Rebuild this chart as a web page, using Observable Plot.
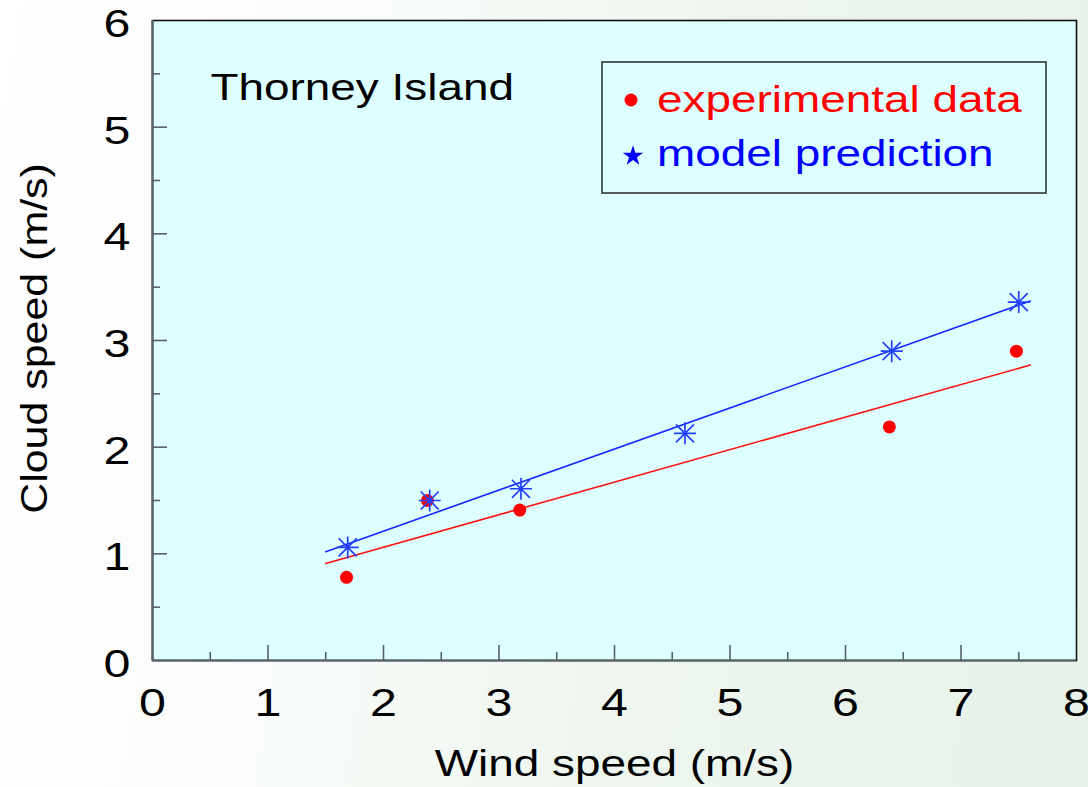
<!DOCTYPE html>
<html>
<head>
<meta charset="utf-8">
<script src="https://cdn.jsdelivr.net/npm/d3@7"></script>
<script src="https://cdn.jsdelivr.net/npm/@observablehq/plot@0.6"></script>
<style>
  html, body { margin: 0; padding: 0; }
  body {
    width: 1088px; height: 787px; overflow: hidden;
    background: linear-gradient(100deg, #ffffff 0%, #fbfdfb 25%, #eef6ef 60%, #e6f2e8 100%);
    font-family: "Liberation Sans", Arial, sans-serif;
  }
  #chart svg { display: block; }
</style>
</head>
<body>
<div id="chart"></div>
<script>
// ---- data ----
const windExp   = [1.68, 2.38, 3.18, 6.38, 7.48];
const cloudExp  = [0.78, 1.50, 1.41, 2.19, 2.90];
const windModel  = [1.69, 2.40, 3.19, 4.61, 6.40, 7.50];
const cloudModel = [1.06, 1.50, 1.61, 2.13, 2.90, 3.36];
const fitWind   = [1.5, 7.6];
const fitExp    = [0.91, 2.77];
const fitModel  = [1.02, 3.37];
const xTicks = [0, 1, 2, 3, 4, 5, 6, 7, 8];
const xMinor = [0.5, 1.5, 2.5, 3.5, 4.5, 5.5, 6.5, 7.5];
const yTicks = [0, 1, 2, 3, 4, 5, 6];
const yMinor = [0.5, 1.5, 2.5, 3.5, 4.5, 5.5];
const seriesNames = ["experimental data", "model prediction"];
const siteName = "Thorney Island";
const xTitle = "Wind speed (m/s)";
const yTitle = "Cloud speed (m/s)";

const exp = windExp.map((x, i) => ({x, y: cloudExp[i]}));
const model = windModel.map((x, i) => ({x, y: cloudModel[i]}));
const fitE = fitWind.map((x, i) => ({x, y: fitExp[i]}));
const fitM = fitWind.map((x, i) => ({x, y: fitModel[i]}));

const asterisk = {
  draw(ctx, size) {
    const r = Math.sqrt(size / Math.PI), d = r * 0.82;
    ctx.moveTo(-r, 0); ctx.lineTo(r, 0);
    ctx.moveTo(0, -r); ctx.lineTo(0, r);
    ctx.moveTo(-d, -d); ctx.lineTo(d, d);
    ctx.moveTo(-d, d); ctx.lineTo(d, -d);
  }
};

const W = 1088, H = 787, ML = 152, MR = 12, MT = 20, MB = 127;
const FW = W - ML - MR, FH = H - MT - MB;
const axisCol = "#58606a";

const chart = Plot.plot({
  width: W, height: H,
  marginLeft: ML, marginRight: MR, marginTop: MT, marginBottom: MB,
  x: {domain: [0, 8], axis: null},
  y: {domain: [0, 6], axis: null},
  style: {background: "transparent", fontFamily: "Liberation Sans, Arial, sans-serif", overflow: "visible", color: "#000"},
  marks: [
    Plot.frame({fill: "#DDFFFF", stroke: "#111", strokeWidth: 1.6}),
    Plot.ruleX([0], {stroke: axisCol, strokeWidth: 2.2}),
    Plot.ruleY([0], {stroke: axisCol, strokeWidth: 2.2}),
    Plot.tickX(xTicks.slice(1, -1), {x: d => d, stroke: axisCol, strokeWidth: 1.6, insetTop: FH - 15}),
    Plot.tickX(xMinor, {x: d => d, stroke: axisCol, strokeWidth: 1.6, insetTop: FH - 8}),
    Plot.tickY(yTicks.slice(1, -1), {y: d => d, stroke: axisCol, strokeWidth: 1.6, insetRight: FW - 15}),
    Plot.tickY(yMinor, {y: d => d, stroke: axisCol, strokeWidth: 1.6, insetRight: FW - 8}),
    Plot.text(xTicks, {x: d => d, text: d => String(d), frameAnchor: "bottom", dy: 43, lineAnchor: "middle", fontSize: 39, fill: "#000"}),
    Plot.text(yTicks, {y: d => d, text: d => String(d), frameAnchor: "left", dx: -22, dy: 4, textAnchor: "end", lineAnchor: "middle", fontSize: 39, fill: "#000"}),
    Plot.text([xTitle], {frameAnchor: "bottom", dy: 104, lineAnchor: "middle", fontSize: 37, fill: "#000"}),
    Plot.text([yTitle], {frameAnchor: "left", dx: -117, dy: -2, rotate: -90, textAnchor: "middle", lineAnchor: "middle", fontSize: 37, fill: "#000"}),
    Plot.text([siteName], {frameAnchor: "top-left", dx: 58, dy: 68, textAnchor: "start", lineAnchor: "middle", fontSize: 37, fill: "#000"}),
    Plot.line(fitE, {x: "x", y: "y", stroke: "#ff1010", strokeWidth: 1.6}),
    Plot.line(fitM, {x: "x", y: "y", stroke: "#1428ff", strokeWidth: 1.6}),
    Plot.dot(exp, {x: "x", y: "y", r: 6.5, fill: "#ff0000", stroke: "none"}),
    Plot.dot(model, {x: "x", y: "y", r: 11, symbol: asterisk, fill: "none", stroke: "#2440ff", strokeWidth: 1.7})
  ]
});

document.getElementById("chart").appendChild(chart);

// legend inside the plot area
const svg = d3.select(chart);
const lg = svg.append("g").attr("font-family", "Liberation Sans, Arial, sans-serif").attr("text-anchor", "start");
lg.append("rect").attr("x", 602).attr("y", 62).attr("width", 444).attr("height", 131)
  .attr("fill", "none").attr("stroke", "#333").attr("stroke-width", 1.6);
lg.append("circle").attr("cx", 631).attr("cy", 100).attr("r", 6.5).attr("fill", "#ff0000");
lg.append("path").attr("d", d3.symbol(d3.symbolStar, 130)()).attr("transform", "translate(633,156)").attr("fill", "#0000ff");
lg.append("text").attr("x", 657).attr("y", 112).attr("font-size", 37).attr("text-anchor", "start").attr("fill", "#ff0000").text(seriesNames[0]);
lg.append("text").attr("x", 657).attr("y", 166).attr("font-size", 37).attr("text-anchor", "start").attr("fill", "#0000ff").text(seriesNames[1]);

// horizontal stretch of the lettering, as in the reference
chart.querySelectorAll("text").forEach(t => {
  const sx = t.textContent === yTitle ? 1.16 : 1.24;
  const w = t.getComputedTextLength();
  if (w > 0) {
    t.setAttribute("textLength", (w * sx).toFixed(1));
    t.setAttribute("lengthAdjust", "spacingAndGlyphs");
  }
});
</script>
</body>
</html>
